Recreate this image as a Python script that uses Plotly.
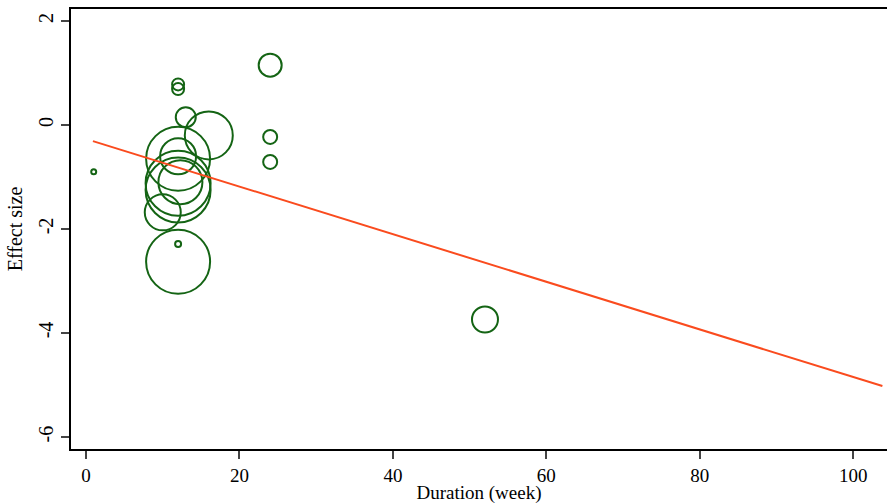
import plotly.graph_objects as go

# Study-level data (duration in weeks, effect size, bubble diameter in px)
duration = [1, 12, 12, 24, 13, 16, 24, 24, 12, 12, 12, 12, 12.3, 10, 12, 12, 52]
effect = [-0.90, 0.78, 0.69, 1.15, 0.15, -0.20, -0.23, -0.71, -0.65, -0.60, -1.12, -1.25, -1.10, -1.68, -2.29, -2.63, -3.74]
bubble = [5, 12, 12, 23, 20, 48, 14, 14, 64, 36, 65, 65, 44, 36, 6, 64, 26]

# Fitted meta-regression line
fit_x = [0.9, 103.8]
fit_y = [-0.31, -5.02]

x_ticks = [0, 20, 40, 60, 80, 100]
y_ticks = [-6, -4, -2, 0, 2]
y_tick_text = ["-6", "-4", "-2", "0", "2"]

FONT = "Liberation Serif"

fig = go.Figure()
fig.add_trace(go.Scatter(
    x=duration, y=effect, mode="markers",
    marker=dict(symbol="circle-open", size=bubble, color="#146414", opacity=1,
                line=dict(width=2, color="#146414")),
    showlegend=False, hoverinfo="x+y"))
fig.add_trace(go.Scatter(
    x=fit_x, y=fit_y, mode="lines",
    line=dict(color="#FA4B1E", width=2), showlegend=False))

fig.update_layout(
    width=887, height=504,
    margin=dict(l=71, r=0, t=9, b=55),
    plot_bgcolor="white", paper_bgcolor="white",
    font=dict(family=FONT, size=20, color="black"),
    xaxis=dict(range=[-1.96, 104.4], tickvals=x_ticks, ticks="outside", ticklen=8,
               tickwidth=1.5, showline=True, linecolor="black", linewidth=2,
               mirror=True, showgrid=False, zeroline=False,
               title=dict(text="Duration (week)", font=dict(size=19), standoff=6),
               tickfont=dict(size=19)),
    yaxis=dict(range=[-6.23, 2.23], tickvals=y_ticks, ticktext=y_tick_text,
               ticks="outside", ticklen=8,
               tickwidth=1.5, showline=True, linecolor="black", linewidth=2,
               mirror=False, showgrid=False, zeroline=False, tickangle=-90,
               title=dict(text="Effect size", font=dict(size=20), standoff=7),
               tickfont=dict(size=20)),
)

fig.write_html("out.html")
